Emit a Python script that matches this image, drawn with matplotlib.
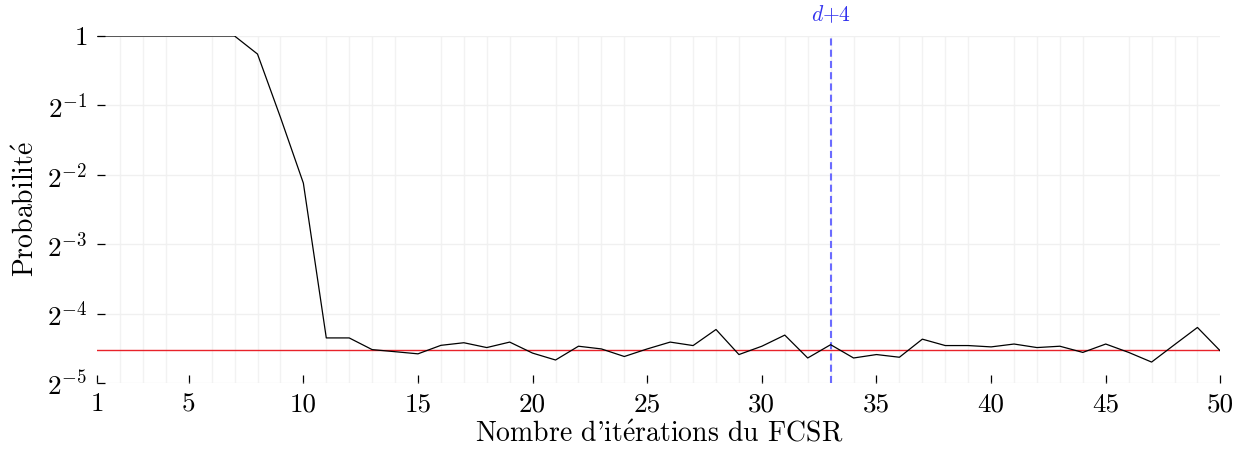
import numpy as np
import matplotlib
matplotlib.use('Agg')
import matplotlib.pyplot as plt

plt.rcParams['font.family'] = ['cmr10', 'DejaVu Serif']
plt.rcParams['mathtext.fontset'] = 'cm'
plt.rcParams['axes.formatter.use_mathtext'] = True

# Probabilité mesurée pour chaque nombre d'itérations
iterations = list(range(1, 51))
proba = [1.0, 1.0, 1.0, 1.0, 1.0, 1.0, 1.0, 0.835, 0.444, 0.230,
         0.0490, 0.0490, 0.0436, 0.0427, 0.0418, 0.0455, 0.0467, 0.0445, 0.0470, 0.0421,
         0.0393, 0.0451, 0.0439, 0.0407, 0.0439, 0.0470, 0.0454, 0.0533, 0.0415, 0.0451,
         0.0504, 0.0401, 0.0458, 0.0401, 0.0415, 0.0404, 0.0484, 0.0454, 0.0454, 0.0448,
         0.0461, 0.0445, 0.0451, 0.0424, 0.0461, 0.0424, 0.0385, 0.0458, 0.0544, 0.0430]
proba_ref = 0.0436
d_plus_4 = 33

xticks = [1, 5, 10, 15, 20, 25, 30, 35, 40, 45, 50]
yticks = [2.0 ** k for k in range(-5, 1)]
ytick_labels = ['$2^{-5}$', '$2^{-4}$', '$2^{-3}$', '$2^{-2}$', '$2^{-1}$', '$1$']

fig = plt.figure(figsize=(12.44, 4.5), dpi=100)
ax = fig.add_axes([0.078, 0.149, 0.903, 0.771])

ax.plot(iterations, proba, color='black', lw=0.9, zorder=3)
ax.axhline(proba_ref, color='#e8222a', lw=1.0, zorder=2)
ax.axvline(d_plus_4, color='#6b6bff', lw=1.5, ls=(0, (3.4, 2.0)), zorder=2)
ax.text(d_plus_4, 1.064, '$d{+}4$', color='#3333ee', fontsize=15.5,
        ha='center', va='center', transform=ax.get_xaxis_transform())

ax.set_yscale('log', base=2)
ax.set_xlim(1, 50)
ax.set_ylim(2.0 ** -5, 1)

ax.set_xticks(xticks)
ax.set_xticklabels([str(t) for t in xticks])
ax.set_xticks(iterations, minor=True)
ax.set_yticks(yticks)
ax.set_yticklabels(ytick_labels)
ax.yaxis.set_minor_locator(matplotlib.ticker.NullLocator())

ax.grid(True, which='major', axis='y', color='#f0f0f0', lw=1.0, zorder=0)
ax.grid(True, which='minor', axis='x', color='#f2f2f2', lw=1.0, zorder=0)
ax.tick_params(which='major', direction='in', length=6, width=0.9,
               labelsize=19.5, pad=7)
ax.tick_params(which='minor', length=0)
for s in ax.spines.values():
    s.set_visible(False)

ax.set_xlabel("Nombre d'it$\\acute{\\mathrm{e}}$rations du FCSR", fontsize=20, labelpad=3)
ax.set_ylabel('Probabilit$\\acute{\\mathrm{e}}$', fontsize=20, labelpad=5)

fig.savefig('out.png', dpi=100)
